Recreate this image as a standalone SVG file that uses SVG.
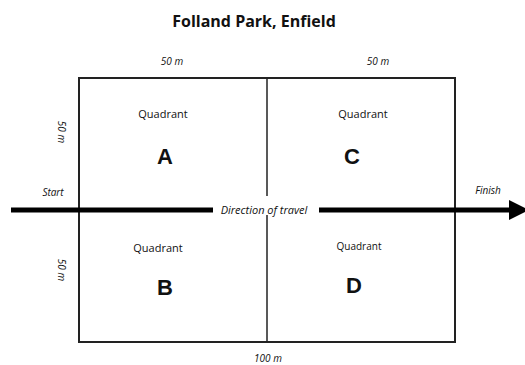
<svg xmlns="http://www.w3.org/2000/svg" width="525" height="365" viewBox="0 0 525 365">
<defs>
<style>
text{font-family:"Open Sans","Noto Sans","Liberation Sans",sans-serif;fill:#111;text-anchor:middle}
.t{font-size:16px;font-weight:bold}
.m{font-size:10px;font-style:italic}
.d{font-size:11px;font-style:italic}
.q{font-size:11px}
.l{font-size:22px;font-weight:bold;font-family:"Liberation Sans",Arial,sans-serif}
.ln{stroke:#222;fill:none}
</style>
<marker id="ah" markerWidth="4" markerHeight="4" refX="0" refY="2" orient="auto" markerUnits="strokeWidth">
<path d="M0,0 L4,2 L0,4 Z" fill="#000"/>
</marker>
</defs>
<text class="t" x="254" y="27">Folland Park, Enfield</text>
<g id="field">
<rect class="ln" x="79" y="78" width="376" height="264" stroke-width="2"/>
<line class="ln" x1="267" y1="78" x2="267" y2="196" stroke-width="1.5"/>
<line class="ln" x1="267" y1="215" x2="267" y2="342" stroke-width="1.5"/>
</g>
<g id="labels">
<text class="m" x="172" y="65">50 m</text>
<text class="m" x="378" y="65">50 m</text>
<text class="m" x="268" y="362">100 m</text>
<text class="m" transform="translate(58,132) rotate(90)">50 m</text>
<text class="m" transform="translate(58,270) rotate(90)">50 m</text>
<text class="m" x="53" y="196">Start</text>
<text class="m" x="488" y="194">Finish</text>
</g>
<g id="quadA"><text class="q" x="163" y="118">Quadrant</text><text class="l" x="165" y="164">A</text></g>
<g id="quadC"><text class="q" x="363" y="118">Quadrant</text><text class="l" x="352" y="164">C</text></g>
<g id="quadB"><text class="q" x="158" y="252">Quadrant</text><text class="l" x="165" y="295">B</text></g>
<g id="quadD"><text class="q" x="359" y="250" style="font-size:10px">Quadrant</text><text class="l" x="354" y="293">D</text></g>
<g id="connectors">
<line x1="11" y1="210" x2="213" y2="210" stroke="#000" stroke-width="5"/>
<line x1="319" y1="210" x2="509" y2="210" stroke="#000" stroke-width="5" marker-end="url(#ah)"/>
<text class="d" x="264" y="214">Direction of travel</text>
</g>
</svg>
